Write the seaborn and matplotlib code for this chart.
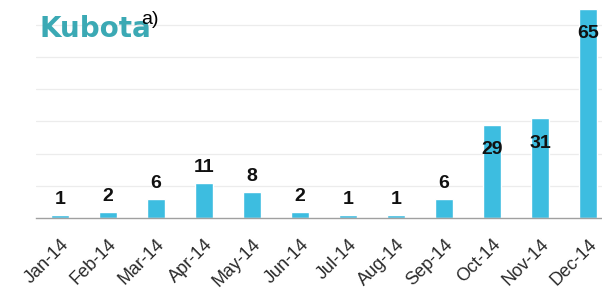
import numpy as np
import pandas as pd
import matplotlib
matplotlib.use("Agg")
import matplotlib.pyplot as plt
import seaborn as sns

# Monthly values
months = ['Jan-14', 'Feb-14', 'Mar-14', 'Apr-14', 'May-14', 'Jun-14',
          'Jul-14', 'Aug-14', 'Sep-14', 'Oct-14', 'Nov-14', 'Dec-14']
values = [1, 2, 6, 11, 8, 2, 1, 1, 6, 29, 31, 65]

data = pd.DataFrame({'month': months, 'count': values})

sns.set_style("white")
plt.rcParams['font.family'] = ['Liberation Sans', 'DejaVu Sans']

fig = plt.figure(figsize=(6.02, 2.91), dpi=100)
ax = fig.add_axes([36 / 602, 73 / 291, 576 / 602, 219 / 291])

sns.barplot(data=data, x='month', y='count', color='#3dbde0',
            saturation=1, width=0.39, ax=ax)

ax.set_xlim(-0.5, len(months) - 0.5)
ax.set_ylim(0, 68)
ax.set_xlabel('')
ax.set_ylabel('')

# light horizontal grid
ax.set_yticks(np.arange(10, 70, 10))
ax.tick_params(axis='y', length=0, labelleft=False)
ax.yaxis.grid(True, color='#ececec', linewidth=0.9)
ax.set_axisbelow(True)

for side in ['left', 'right', 'top']:
    ax.spines[side].set_visible(False)
ax.spines['bottom'].set_color('#a0a0a0')
ax.spines['bottom'].set_linewidth(1.0)

# ticks between categories, labels at categories
ax.set_xticks(np.arange(-0.5, len(months), 1), minor=True)
ax.tick_params(axis='x', which='minor', length=4, color='#a0a0a0', width=1)
ax.tick_params(axis='x', which='major', length=0, pad=13)
ax.set_xticklabels(months, rotation=45, ha='right', rotation_mode='anchor',
                   fontsize=13, color='#2a2a2a')

# value labels: above short bars, inside tall bars
for i, v in enumerate(values):
    if v > 20:
        ax.annotate(str(v), (i, v), xytext=(0, -18), textcoords='offset points',
                    ha='center', va='center', fontsize=14, fontweight='bold',
                    color='#111111')
    else:
        ax.annotate(str(v), (i, v), xytext=(0, 5), textcoords='offset points',
                    ha='center', va='bottom', fontsize=14, fontweight='bold',
                    color='#111111')

# logo and panel tag
fig.text(40 / 602, 1 - 37 / 291, 'Kubota', fontsize=20, color='#3ba9b4',
         fontweight='bold', family=['DejaVu Sans'], va='baseline', ha='left')
fig.text(141 / 602, 1 - 24 / 291, 'a)', fontsize=14, color='#000000',
         va='baseline', ha='left')

fig.savefig('out.png', dpi=100)
